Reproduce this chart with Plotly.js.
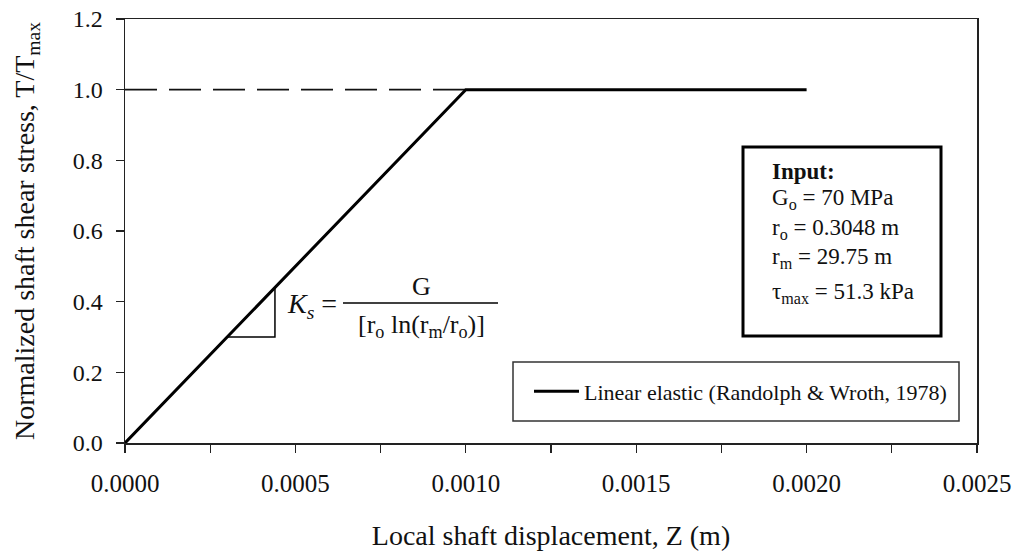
<!DOCTYPE html>
<html>
<head>
<meta charset="utf-8">
<script src="https://cdn.plot.ly/plotly-3.0.1.min.js"></script>
<style>html,body{margin:0;padding:0;background:#fff;}#chart{width:1018px;height:552px;}</style>
</head>
<body>
<div id="chart"></div>
<script>
// Data
const z_disp = [0, 0.001, 0.002];
const t_norm = [0, 1.0, 1.0];
const dash_z = [0, 0.001];
const dash_t = [1.0, 1.0];
const tri_z = [0.0003, 0.00044, 0.00044];
const tri_t = [0.3, 0.3, 0.44];
const legendName = "Linear elastic (Randolph &amp; Wroth, 1978)";
const inputLines = [
  "<b>Input:</b>",
  "G<sub>o</sub> = 70 MPa",
  "r<sub>o</sub> = 0.3048 m",
  "r<sub>m</sub> = 29.75 m",
  "τ<sub>max</sub> = 51.3 kPa"
];

const FONT = '"Liberation Serif", "Times New Roman", serif';
const TXT = '#111';

// pixel helpers for plot area (l=125, r=977, t=19, b=443)
const px = v => (v - 125) / 852;
const py = v => (443 - v) / 424;

const traces = [
  {x: dash_z, y: dash_t, mode: 'lines', showlegend: false, hoverinfo: 'skip',
   line: {color: '#111', width: 1.6, dash: '32px,12px'}},
  {x: tri_z, y: tri_t, mode: 'lines', showlegend: false, hoverinfo: 'skip',
   line: {color: '#000', width: 1.5}},
  {x: z_disp, y: t_norm, mode: 'lines', name: legendName,
   line: {color: '#000', width: 3}}
];

const inputY = [172, 199, 229, 258, 293];
const annotations = inputLines.map((t, i) => ({
  xref: 'paper', yref: 'paper', x: px(770), y: py(inputY[i]),
  xanchor: 'left', yanchor: 'middle', showarrow: false, text: t,
  font: {family: FONT, size: 23, color: TXT}
}));
annotations.push(
  {xref: 'paper', yref: 'paper', x: px(339), y: py(305), xanchor: 'right', yanchor: 'middle',
   showarrow: false, text: '<i>K<sub>s</sub></i> =', font: {family: FONT, size: 28, color: TXT}},
  {xref: 'paper', yref: 'paper', x: px(421), y: py(286), xanchor: 'center', yanchor: 'middle',
   showarrow: false, text: 'G', font: {family: FONT, size: 26, color: TXT}},
  {xref: 'paper', yref: 'paper', x: px(421), y: py(326), xanchor: 'center', yanchor: 'middle',
   showarrow: false, text: '[r<sub>o</sub> ln(r<sub>m</sub>/r<sub>o</sub>)]', font: {family: FONT, size: 26, color: TXT}}
);

const layout = {
  width: 1018, height: 552,
  margin: {l: 125, r: 41, t: 19, b: 109},
  paper_bgcolor: '#fff', plot_bgcolor: '#fff',
  font: {family: FONT, color: TXT},
  xaxis: {
    range: [0, 0.0025], tick0: 0, dtick: 0.0005, tickformat: '.4f',
    ticks: 'outside', ticklen: 8, tickwidth: 1.3, tickcolor: '#222',
    ticklabelstandoff: 9,
    minor: {dtick: 0.00025, ticks: 'outside', ticklen: 8, tickwidth: 1.3, tickcolor: '#222', showgrid: false},
    showline: true, mirror: true, linecolor: '#222', linewidth: 1.5,
    showgrid: false, zeroline: false,
    tickfont: {family: FONT, size: 25, color: TXT},
    title: {text: 'Local shaft displacement, Z (m)', font: {family: FONT, size: 28, color: TXT}, standoff: 30}
  },
  yaxis: {
    range: [0, 1.2], tick0: 0, dtick: 0.2, tickformat: '.1f',
    ticks: 'outside', ticklen: 8, tickwidth: 1.3, tickcolor: '#222',
    ticklabelstandoff: 8,
    showline: true, mirror: true, linecolor: '#222', linewidth: 1.5,
    showgrid: false, zeroline: false,
    tickfont: {family: FONT, size: 24, color: TXT},
    title: {text: 'Normalized shaft shear stress, T/T<sub>max</sub>', font: {family: FONT, size: 28, color: TXT}, standoff: 30}
  },
  showlegend: true,
  legend: {
    x: px(529), y: py(391.5), xanchor: 'left', yanchor: 'middle',
    bgcolor: 'rgba(0,0,0,0)', borderwidth: 0, itemwidth: 45,
    font: {family: FONT, size: 22, color: TXT}
  },
  shapes: [
    {type: 'rect', xref: 'paper', yref: 'paper', x0: px(743), x1: px(941), y0: py(336), y1: py(147),
     line: {color: '#000', width: 3}, fillcolor: '#fff', layer: 'below'},
    {type: 'rect', xref: 'paper', yref: 'paper', x0: px(513), x1: px(959), y0: py(421), y1: py(362),
     line: {color: '#333', width: 1.5}, fillcolor: '#fff', layer: 'below'},
    {type: 'line', xref: 'paper', yref: 'paper', x0: px(343), x1: px(498), y0: py(303), y1: py(303),
     line: {color: '#000', width: 1.5}}
  ],
  annotations: annotations
};

Plotly.newPlot('chart', traces, layout, {displayModeBar: false, staticPlot: true});
</script>
</body>
</html>
